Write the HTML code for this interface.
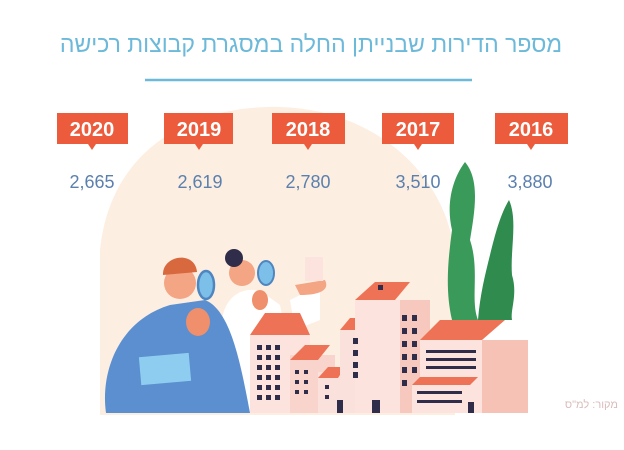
<!DOCTYPE html>
<html><head><meta charset="utf-8"><style>
html,body{margin:0;padding:0;background:#fff;}
body{width:624px;height:445px;overflow:hidden;position:relative;font-family:"Liberation Sans","DejaVu Sans",sans-serif;}
</style></head><body>
<svg width="624" height="445" viewBox="0 0 624 445" xmlns="http://www.w3.org/2000/svg">
<path d="M100 415 L100 250 C110 150 190 105 280 107 C380 110 450 180 455 260 L455 415 Z" fill="#fdeee2"/>
<text x="311" y="52" text-anchor="middle" font-size="23" fill="#6cb9d9" direction="rtl">מספר הדירות שבנייתן החלה במסגרת קבוצות רכישה</text>
<line x1="145" y1="80" x2="472" y2="80" stroke="#6cb9d9" stroke-width="2.5"/>
<g fill="#ec5b3b">
<rect x="57" y="113" width="71" height="31"/><path d="M88 144 L92 150 L96 144Z"/>
<rect x="164" y="113" width="69" height="31"/><path d="M195 144 L199 150 L203 144Z"/>
<rect x="272" y="113" width="73" height="31"/><path d="M304 144 L308 150 L312 144Z"/>
<rect x="382" y="113" width="72" height="31"/><path d="M414 144 L418 150 L422 144Z"/>
<rect x="495" y="113" width="73" height="31"/><path d="M527 144 L531 150 L535 144Z"/>
</g>
<g fill="#fff" font-weight="bold" font-size="20" text-anchor="middle">
<text x="92" y="136">2020</text><text x="199" y="136">2019</text><text x="308" y="136">2018</text><text x="418" y="136">2017</text><text x="531" y="136">2016</text>
</g>
<path d="M465 162 C480 180 475 210 470 240 C480 270 470 300 478 320 L452 320 C445 290 448 260 452 230 C445 200 455 175 465 162Z" fill="#3a9a5a"/>
<path d="M509 200 C518 220 510 250 512 275 C518 295 510 310 512 320 L478 320 C480 295 485 275 490 255 C495 235 500 215 509 200Z" fill="#2f8b4e"/>
<!-- woman (behind buildings) -->
<path d="M222 320 C225 295 245 285 262 292 L280 305 L285 330 L255 413 L235 413Z" fill="#ffffff"/>
<path d="M290 300 L320 285 L320 320 L295 330Z" fill="#ffffff"/>
<circle cx="242" cy="273" r="13" fill="#f3a584"/>
<circle cx="234" cy="258" r="9" fill="#2f2d4a"/>
<ellipse cx="266" cy="273" rx="8" ry="12" fill="#7cc0ea" stroke="#4f86c0" stroke-width="2"/>
<ellipse cx="260" cy="300" rx="8" ry="10" fill="#ef8f6b"/>
<path d="M295 285 L325 280 C330 290 320 295 300 295Z" fill="#f3a584"/>
<rect x="305" y="257" width="18" height="24" fill="#fce3de"/>
<g>
<rect x="250" y="335" width="60" height="78" fill="#fce3de"/>
<path d="M250 335 L265 313 L300 313 L310 335Z" fill="#ee7255"/>
<rect x="290" y="355" width="45" height="58" fill="#f8d4cc"/>
<path d="M290 360 L305 345 L330 345 L318 360Z" fill="#ee7255"/>
<rect x="318" y="372" width="40" height="41" fill="#fbe1db"/>
<path d="M318 378 L328 367 L345 367 L338 378Z" fill="#ee7255"/>
<rect x="340" y="330" width="40" height="83" fill="#fbe1db"/>
<path d="M340 330 L350 318 L380 318 L372 330Z" fill="#ee7255"/>
<rect x="355" y="300" width="75" height="113" fill="#f7c8bd"/>
<rect x="355" y="300" width="45" height="113" fill="#fce3de"/>
<path d="M355 300 L375 282 L410 282 L395 300Z" fill="#ee7255"/>
<rect x="420" y="340" width="108" height="73" fill="#f7c2b6"/>
<rect x="420" y="340" width="62" height="73" fill="#fce3de"/>
<path d="M420 340 L440 320 L505 320 L482 340Z" fill="#ee7255"/>
<rect x="412" y="385" width="65" height="28" fill="#fce3de"/>
<path d="M412 385 L420 377 L478 377 L470 385Z" fill="#ee7255"/>
<g fill="#2f2d4a">
<rect x="257" y="345" width="5" height="5"/><rect x="266" y="345" width="5" height="5"/><rect x="275" y="345" width="5" height="5"/>
<rect x="257" y="355" width="5" height="5"/><rect x="266" y="355" width="5" height="5"/><rect x="275" y="355" width="5" height="5"/>
<rect x="257" y="365" width="5" height="5"/><rect x="266" y="365" width="5" height="5"/><rect x="275" y="365" width="5" height="5"/>
<rect x="257" y="375" width="5" height="5"/><rect x="266" y="375" width="5" height="5"/><rect x="275" y="375" width="5" height="5"/>
<rect x="257" y="385" width="5" height="5"/><rect x="266" y="385" width="5" height="5"/><rect x="275" y="385" width="5" height="5"/>
<rect x="257" y="395" width="5" height="5"/><rect x="266" y="395" width="5" height="5"/><rect x="275" y="395" width="5" height="5"/>
<rect x="295" y="370" width="4" height="4"/><rect x="304" y="370" width="4" height="4"/><rect x="295" y="380" width="4" height="4"/><rect x="304" y="380" width="4" height="4"/><rect x="295" y="390" width="4" height="4"/><rect x="304" y="390" width="4" height="4"/>
<rect x="325" y="385" width="4" height="4"/><rect x="325" y="395" width="4" height="4"/>
<rect x="353" y="338" width="5" height="6"/><rect x="353" y="350" width="5" height="6"/><rect x="353" y="362" width="5" height="6"/><rect x="353" y="372" width="5" height="6"/>
<rect x="402" y="315" width="5" height="6"/><rect x="412" y="315" width="5" height="6"/><rect x="402" y="328" width="5" height="6"/><rect x="412" y="328" width="5" height="6"/><rect x="402" y="341" width="5" height="6"/><rect x="412" y="341" width="5" height="6"/><rect x="402" y="354" width="5" height="6"/><rect x="412" y="354" width="5" height="6"/><rect x="402" y="367" width="5" height="6"/><rect x="412" y="367" width="5" height="6"/><rect x="402" y="380" width="5" height="6"/>
<rect x="378" y="285" width="5" height="5"/>
<rect x="426" y="350" width="50" height="3"/><rect x="426" y="358" width="50" height="3"/><rect x="426" y="366" width="50" height="3"/>
<rect x="417" y="391" width="45" height="3"/><rect x="417" y="400" width="45" height="3"/>
<rect x="337" y="400" width="6" height="13"/><rect x="372" y="400" width="8" height="13"/><rect x="468" y="402" width="6" height="11"/>
</g>
</g>
<!-- man -->
<path d="M106 413 C100 370 120 320 170 305 L205 300 C230 310 240 360 250 413Z" fill="#5b8fd0"/>
<rect x="140" y="355" width="50" height="28" fill="#8fcdf0" transform="rotate(-5 165 369)"/>
<circle cx="180" cy="283" r="16" fill="#f3a584"/>
<path d="M163 275 C162 255 195 250 197 272Z" fill="#d8683e"/>
<ellipse cx="206" cy="285" rx="8" ry="14" fill="#7cc0ea" stroke="#4f86c0" stroke-width="2.5"/>
<ellipse cx="198" cy="322" rx="12" ry="14" fill="#ef8f6b"/>
<g fill="#5b80ae" font-size="18" text-anchor="middle">
<text x="92" y="188">2,665</text><text x="200" y="188">2,619</text><text x="308" y="188">2,780</text><text x="418" y="188">3,510</text><text x="530" y="188">3,880</text>
</g>
</svg>
<div style="position:absolute;right:6px;top:399px;font-size:11px;color:#d9bcbc;direction:rtl;white-space:nowrap;">מקור: למ"ס</div>
</body></html>
